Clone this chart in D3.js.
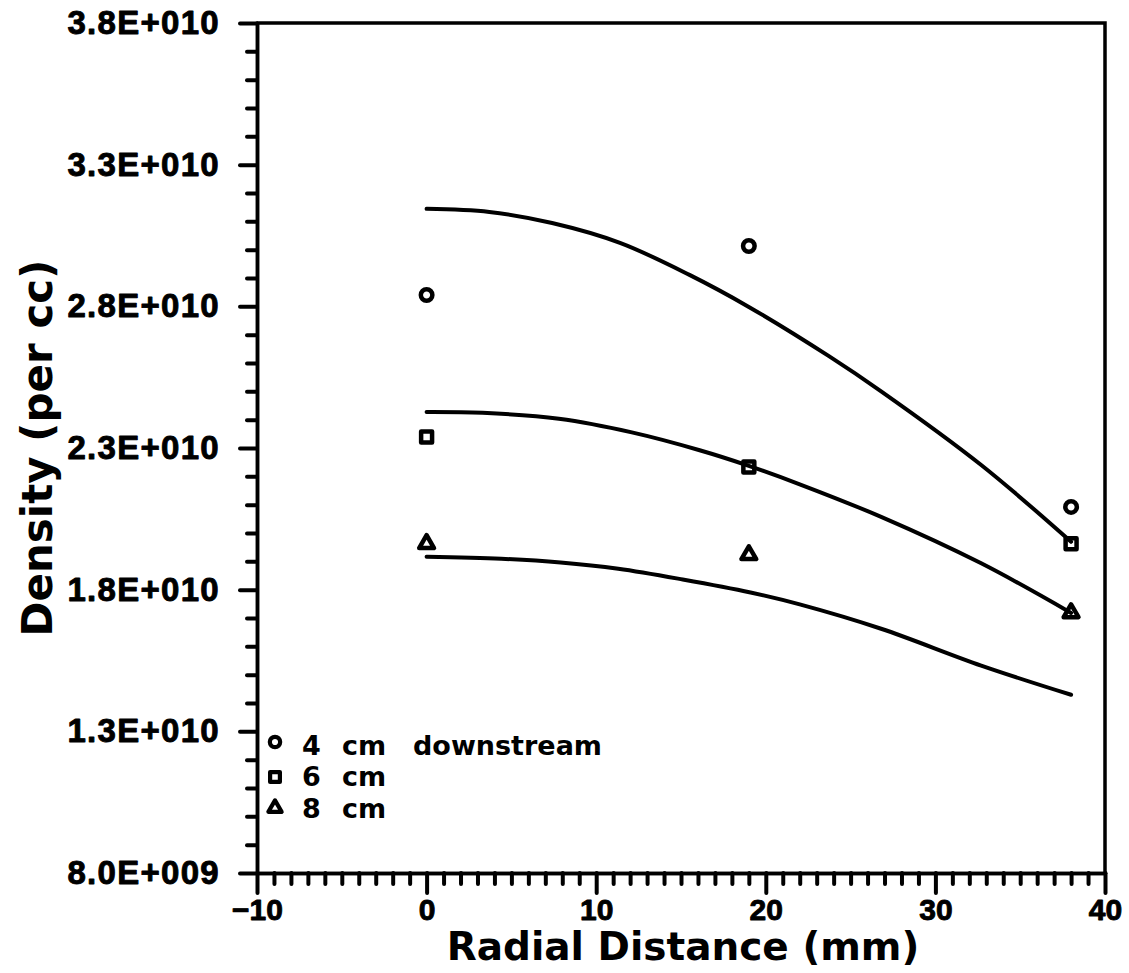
<!DOCTYPE html>
<html>
<head>
<meta charset="utf-8">
<script src="https://cdn.jsdelivr.net/npm/d3@7"></script>
<style>
  html, body { margin: 0; padding: 0; background: #fff; }
  svg { display: block; }
</style>
</head>
<body>
<svg id="chart" width="1129" height="973"></svg>
<script>
// ---------------- data ----------------
const xPositions = [0, 19, 38];                       // radial distance (mm)
const seriesNames = ["4 cm downstream", "6 cm", "8 cm"];
const density4cm = [2.840e10, 3.013e10, 2.092e10];   // circles
const density6cm = [2.339e10, 2.233e10, 1.962e10];   // squares
const density8cm = [1.962e10, 1.923e10, 1.718e10];   // triangles

// fitted curves
const fitX4 = [0, 3.7, 7.4, 11.4, 15.5, 19, 23.7, 26.8, 32.7, 38];
const fit4  = [3.144e10, 3.133e10, 3.094e10, 3.024e10, 2.911e10, 2.798e10, 2.625e10, 2.500e10, 2.240e10, 1.969e10];
const fitX6 = [0, 3.3, 7.8, 12.1, 16.1, 19, 22, 26.8, 32.7, 38];
const fit6  = [2.427e10, 2.424e10, 2.403e10, 2.355e10, 2.292e10, 2.237e10, 2.172e10, 2.057e10, 1.893e10, 1.718e10];
const fitX8 = [0, 4.4, 7.9, 11.3, 15.1, 19.1, 22, 26.8, 32.7, 38];
const fit8  = [1.916e10, 1.909e10, 1.896e10, 1.874e10, 1.836e10, 1.790e10, 1.748e10, 1.662e10, 1.532e10, 1.429e10];

// axis ticks
const xMajorTicks = [-10, 0, 10, 20, 30, 40];
const yMajorTicks = [0.8e10, 1.3e10, 1.8e10, 2.3e10, 2.8e10, 3.3e10, 3.8e10];
const yTickLabels = ["8.0E+009", "1.3E+010", "1.8E+010", "2.3E+010", "2.8E+010", "3.3E+010", "3.8E+010"];
const xTitle = "Radial Distance (mm)";
const yTitle = "Density (per cc)";

// ---------------- layout ----------------
const L = 257, R = 1105, T = 23, B = 873;
const svg = d3.select("#chart");
const x = d3.scaleLinear().domain([-10, 40]).range([L, R]);
const y = d3.scaleLinear().domain([0.8e10, 3.8e10]).range([B, T]);

const SW = 3.5;
const tickFont = "'Liberation Sans', Arial, sans-serif";
const titleFont = "'DejaVu Sans', Verdana, sans-serif";

// minor ticks
const xMinor = d3.range(-10, 40.001, 1).filter(v => !xMajorTicks.includes(v));
const yMinor = d3.range(8, 38.001, 1).map(v => v * 1e9).filter(v => !yMajorTicks.some(m => Math.abs(m - v) < 1));

function styleAxis(g) {
  g.selectAll("path.domain").attr("stroke", "#000").attr("stroke-width", SW).attr("stroke-linecap", "round");
  g.selectAll(".tick line").attr("stroke", "#000").attr("stroke-width", 4).attr("stroke-linecap", "round");
}

// y minor
svg.append("g").attr("transform", `translate(${L},0)`)
  .call(d3.axisLeft(y).tickValues(yMinor).tickSize(10).tickFormat("").tickSizeOuter(0))
  .call(styleAxis);
// x minor
svg.append("g").attr("transform", `translate(0,${B})`)
  .call(d3.axisBottom(x).tickValues(xMinor).tickSize(11).tickFormat("").tickSizeOuter(0))
  .call(styleAxis);

// y major
const gy = svg.append("g").attr("transform", `translate(${L},0)`)
  .call(d3.axisLeft(y).tickValues(yMajorTicks).tickSize(17).tickSizeOuter(0).tickPadding(20)
    .tickFormat((d, i) => yTickLabels[i]))
  .call(styleAxis);
gy.selectAll("text").attr("font-family", tickFont).attr("font-weight", "bold")
  .attr("font-size", 33).attr("letter-spacing", 1.3).attr("fill", "#000")
  .attr("stroke", "#000").attr("stroke-width", 0.9).attr("stroke-linejoin", "round");

// x major
const gx = svg.append("g").attr("transform", `translate(0,${B})`)
  .call(d3.axisBottom(x).tickValues(xMajorTicks).tickSize(20).tickSizeOuter(0).tickPadding(6)
    .tickFormat(d => d < 0 ? "\u2212" + Math.abs(d) : String(d)))
  .call(styleAxis);
gx.selectAll("text").attr("font-family", tickFont).attr("font-weight", "bold")
  .attr("font-size", 30).attr("fill", "#000").attr("stroke", "#000").attr("stroke-width", 0.9)
  .attr("stroke-linejoin", "round");

// frame (top & right)
svg.append("path")
  .attr("d", `M${L},${y(3.8e10)}H${x(40)}V${y(0.8e10)}`)
  .attr("fill", "none").attr("stroke", "#000").attr("stroke-width", SW).attr("stroke-linecap", "round");

// ---------------- curves ----------------
const line = d3.line().x(d => x(d[0])).y(d => y(d[1])).curve(d3.curveCatmullRom.alpha(0.5));
[[fitX4, fit4], [fitX6, fit6], [fitX8, fit8]].forEach(([xs, ys]) => {
  svg.append("path")
    .datum(xs.map((v, i) => [v, ys[i]]))
    .attr("d", line)
    .attr("fill", "none").attr("stroke", "#000").attr("stroke-width", 4)
    .attr("stroke-linecap", "round").attr("stroke-linejoin", "round");
});

// ---------------- markers ----------------
const symbols = [d3.symbolCircle, d3.symbolSquare, d3.symbolTriangle];
const sizes = [105, 120, 95];
const allSeries = [density4cm, density6cm, density8cm];
allSeries.forEach((vals, s) => {
  svg.append("g").selectAll("path")
    .data(vals.map((v, i) => [xPositions[i], v]))
    .join("path")
    .attr("transform", d => `translate(${x(d[0])},${y(d[1])})`)
    .attr("d", d3.symbol().type(symbols[s]).size(sizes[s]))
    .attr("fill", "none").attr("stroke", "#000").attr("stroke-width", 4.5)
    .attr("stroke-linejoin", "round");
});

// ---------------- legend ----------------
const legendRows = [
  { words: ["4", "cm", "downstream"], xs: [302, 342, 413], base: 755, my: 742 },
  { words: ["6", "cm"], xs: [302, 342], base: 786, my: 777 },
  { words: ["8", "cm"], xs: [302, 342], base: 818, my: 808 }
];
legendRows.forEach((row, s) => {
  svg.append("path")
    .attr("transform", `translate(275,${row.my})`)
    .attr("d", d3.symbol().type(symbols[s]).size(sizes[s] * 0.8))
    .attr("fill", "none").attr("stroke", "#000").attr("stroke-width", 4.2)
    .attr("stroke-linejoin", "round");
  const t = svg.append("text")
    .attr("y", row.base)
    .attr("font-family", titleFont).attr("font-weight", "bold").attr("font-size", 27).attr("fill", "#000");
  row.words.forEach((w, i) => {
    t.append("tspan").attr("x", row.xs[i]).text(i < row.words.length - 1 ? w + " " : w);
  });
});

// ---------------- titles ----------------
svg.append("text")
  .attr("x", 683).attr("y", 960).attr("text-anchor", "middle")
  .attr("font-family", titleFont).attr("font-weight", "bold").attr("font-size", 39).attr("fill", "#000")
  .text(xTitle);
svg.append("text")
  .attr("transform", "translate(52,448) rotate(-90)").attr("text-anchor", "middle")
  .attr("font-family", titleFont).attr("font-weight", "bold").attr("font-size", 42).attr("fill", "#000")
  .text(yTitle);
</script>
</body>
</html>
